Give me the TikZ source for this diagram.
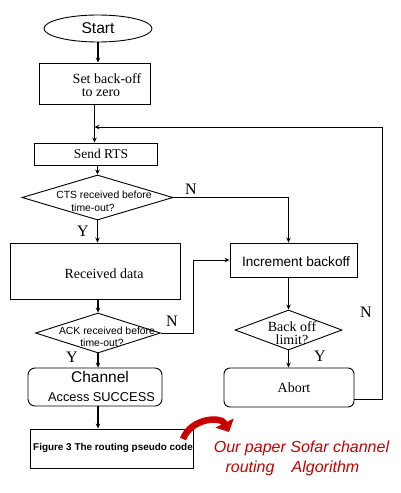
\documentclass[tikz,border=0pt]{standalone}
\usepackage{fontspec}
\setmainfont{Liberation Serif}
\setsansfont{Liberation Sans}
\usetikzlibrary{shapes.geometric,arrows.meta}
\definecolor{redtxt}{RGB}{200,0,0}
\begin{document}
\begin{tikzpicture}[x=1pt,y=-1pt,
  >={Stealth[length=5pt,width=4.5pt]},
  box/.style={draw, line width=0.9pt, rectangle, inner sep=0pt},
  rbox/.style={draw, line width=0.9pt, rectangle, rounded corners=7pt, inner sep=0pt},
  dia/.style={draw, line width=0.9pt, diamond, inner sep=0pt},
  conn/.style={line width=1.1pt},
  serif14/.style={font=\fontsize{14}{14}\selectfont, inner sep=0pt, align=center},
  sans10/.style={font=\sffamily\fontsize{10.4}{13}\selectfont, inner sep=0pt, align=center},
  yn/.style={font=\fontsize{16}{16}\selectfont, inner sep=0pt},
  redt/.style={font=\sffamily\itshape\fontsize{16}{20}\selectfont, text=redtxt, inner sep=0pt}]
\useasboundingbox (0,0) rectangle (400,493);

% shapes
\node[draw, line width=0.9pt, ellipse, minimum width=108pt, minimum height=27pt, inner sep=0pt,
  font=\sffamily\fontsize{15.6}{18}\selectfont] (start) at (98,28.5) {Start};
\node[box, minimum width=111pt, minimum height=41pt] (setb) at (94.5,83.5) {};
\node[serif14] (setbt1) at (107,79) {Set back-off};
\node[serif14] (setbt2) at (101,93) {to zero};
\node[box, minimum width=123pt, minimum height=22pt] (rts) at (95.5,154) {};
\node[font=\fontsize{13.5}{14}\selectfont, inner sep=0pt] (rtst) at (101,154) {Send RTS};
\node[dia, minimum width=151pt, minimum height=45pt] (cts) at (97.5,197.5) {};
\node[sans10] (ctst1) at (104,195) {CTS received before};
\node[sans10] (ctst2) at (93,208) {time-out?};
\node[box, minimum width=170pt, minimum height=56pt] (recv) at (95,271) {};
\node[serif14] (recvt) at (104,274) {Received data};
\node[dia, minimum width=125pt, minimum height=40pt] (ack) at (98,333) {};
\node[sans10] (ackt1) at (107,331) {ACK received before};
\node[sans10] (ackt2) at (102,343) {time-out?};
\node[rbox, minimum width=134pt, minimum height=38pt] (chan) at (95,387) {};
\node[font=\sffamily\fontsize{15.5}{16}\selectfont, inner sep=0pt] (chant1) at (100,377) {Channel};
\node[font=\sffamily\fontsize{12.8}{14}\selectfont, inner sep=0pt] (chant2) at (101.5,397) {Access SUCCESS};
\node[box, minimum width=163pt, minimum height=39pt] (fig) at (111.5,448.5) {};
\node[font=\sffamily\bfseries\fontsize{9.9}{12}\selectfont, inner sep=0pt] (figt) at (113,448) {Figure 3 The routing pseudo code};

\node[box, minimum width=127pt, minimum height=34pt] (inc) at (293.5,260) {};
\node[font=\sffamily\fontsize{13.6}{14}\selectfont, inner sep=0pt] (inct) at (296,262) {Increment backoff};
\node[dia, minimum width=107pt, minimum height=40pt] (lim) at (288.5,330) {};
\node[serif14, font=\fontsize{14}{13}\selectfont] (limt) at (292,333) {Back off\\limit?};
\node[rbox, rounded corners=6pt, minimum width=130pt, minimum height=39pt] (abort) at (289,387.5) {};
\node[serif14] (abortt) at (294,388) {Abort};

% Y / N labels
\node[yn] (n1) at (191,189) {N};
\node[yn] (y1) at (83,231) {Y};
\node[yn] (n2) at (172,321) {N};
\node[yn] (y2) at (72,357) {Y};
\node[yn] (n3) at (366,312) {N};
\node[yn] (y3) at (320,356) {Y};

% helper coordinates
\coordinate (j1) at (193,0);
\coordinate (j2) at (382,127);

% connectors
\draw[conn,->] (start.south) -- (start.south |- setb.north);
\draw[conn,->] (setb.south) -- (setb.south |- rts.north);
\draw[conn,->] (cts.north |- rts.south) -- (cts.north);
\draw[conn,->] (cts.south) -- (cts.south |- recv.north);
\draw[conn,->] (ack.north |- recv.south) -- (ack.north);
\draw[conn,->] (ack.south) -- (ack.south |- chan.north);
\draw[conn,->] ([xshift=3pt]chan.south) -- ([xshift=3pt]chan.south |- fig.north);
\draw[conn,->] (cts.east) -| (lim.north |- inc.north);
\draw[line width=0.9pt,->] (ack.east) -| (j1 |- inc.west) -- (inc.west);
\draw[conn,->] (lim.north |- inc.south) -- (lim.north);
\draw[conn,->] (lim.south) -- (lim.south |- abort.north);
\draw[line width=0.9pt,->] ([yshift=-11.5pt]abort.east) -| (j2) -- (j2 -| setb.south);

% red curved arrow and text
\draw[redtxt, line width=6.5pt, -{Triangle[length=10pt,width=20pt]}]
  (183,439) .. controls (191,418) and (221,416) .. (229,432);
\node[redt] (red1) at (301.5,448) {Our paper Sofar channel};
\node[redt] (red2) at (250,468) {routing};
\node[redt] (red3) at (325.5,468) {Algorithm};
\end{tikzpicture}
\end{document}
